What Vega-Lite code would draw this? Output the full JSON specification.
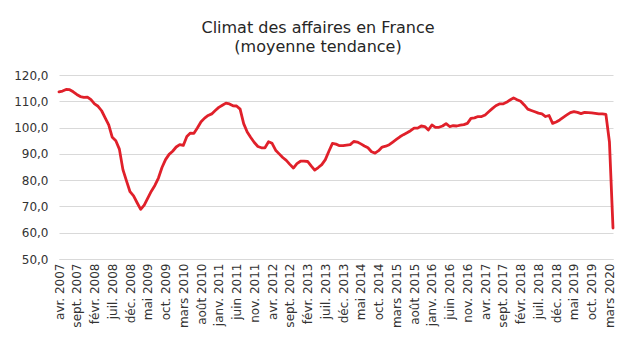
{
  "$schema": "https://vega.github.io/schema/vega-lite/v6.json",
  "autosize": "none",
  "width": 554,
  "height": 184,
  "padding": {"left": 59, "top": 75, "right": 25, "bottom": 92},
  "background": "white",
  "title": {
    "text": ["Climat des affaires en France", "(moyenne tendance)"],
    "font": "DejaVu Sans",
    "fontSize": 16,
    "fontWeight": "normal",
    "color": "#262626",
    "lineHeight": 19,
    "offset": 14,
    "anchor": "middle",
    "dx": -18
  },
  "data": {
    "values": [
      {"m": "avr. 2007", "v": 113.6}, {"m": "mai 2007", "v": 113.9}, {"m": "juin 2007", "v": 114.5}, {"m": "juil. 2007", "v": 114.4}, {"m": "août 2007", "v": 113.6},
      {"m": "sept. 2007", "v": 112.6}, {"m": "oct. 2007", "v": 111.8}, {"m": "nov. 2007", "v": 111.5}, {"m": "déc. 2007", "v": 111.6}, {"m": "janv. 2008", "v": 110.6},
      {"m": "févr. 2008", "v": 109.0}, {"m": "mars 2008", "v": 108.1}, {"m": "avr. 2008", "v": 106.4}, {"m": "mai 2008", "v": 103.7}, {"m": "juin 2008", "v": 101.0},
      {"m": "juil. 2008", "v": 96.3}, {"m": "août 2008", "v": 95.0}, {"m": "sept. 2008", "v": 91.8}, {"m": "oct. 2008", "v": 84.0}, {"m": "nov. 2008", "v": 79.7},
      {"m": "déc. 2008", "v": 75.6}, {"m": "janv. 2009", "v": 74.0}, {"m": "févr. 2009", "v": 71.4}, {"m": "mars 2009", "v": 68.9}, {"m": "avr. 2009", "v": 70.5},
      {"m": "mai 2009", "v": 73.2}, {"m": "juin 2009", "v": 75.8}, {"m": "juil. 2009", "v": 78.0}, {"m": "août 2009", "v": 80.8}, {"m": "sept. 2009", "v": 84.8},
      {"m": "oct. 2009", "v": 87.8}, {"m": "nov. 2009", "v": 89.8}, {"m": "déc. 2009", "v": 91.0}, {"m": "janv. 2010", "v": 92.6}, {"m": "févr. 2010", "v": 93.5},
      {"m": "mars 2010", "v": 93.2}, {"m": "avr. 2010", "v": 96.6}, {"m": "mai 2010", "v": 97.9}, {"m": "juin 2010", "v": 97.8}, {"m": "juil. 2010", "v": 99.9},
      {"m": "août 2010", "v": 102.2}, {"m": "sept. 2010", "v": 103.6}, {"m": "oct. 2010", "v": 104.6}, {"m": "nov. 2010", "v": 105.2}, {"m": "déc. 2010", "v": 106.5},
      {"m": "janv. 2011", "v": 107.7}, {"m": "févr. 2011", "v": 108.5}, {"m": "mars 2011", "v": 109.3}, {"m": "avr. 2011", "v": 109.0}, {"m": "mai 2011", "v": 108.3},
      {"m": "juin 2011", "v": 108.2}, {"m": "juil. 2011", "v": 107.0}, {"m": "août 2011", "v": 101.5}, {"m": "sept. 2011", "v": 98.3}, {"m": "oct. 2011", "v": 96.2},
      {"m": "nov. 2011", "v": 94.3}, {"m": "déc. 2011", "v": 92.8}, {"m": "janv. 2012", "v": 92.3}, {"m": "févr. 2012", "v": 92.3}, {"m": "mars 2012", "v": 94.6},
      {"m": "avr. 2012", "v": 94.0}, {"m": "mai 2012", "v": 91.4}, {"m": "juin 2012", "v": 90.0}, {"m": "juil. 2012", "v": 88.6}, {"m": "août 2012", "v": 87.5},
      {"m": "sept. 2012", "v": 86.0}, {"m": "oct. 2012", "v": 84.6}, {"m": "nov. 2012", "v": 86.3}, {"m": "déc. 2012", "v": 87.2}, {"m": "janv. 2013", "v": 87.2},
      {"m": "févr. 2013", "v": 87.1}, {"m": "mars 2013", "v": 85.4}, {"m": "avr. 2013", "v": 83.8}, {"m": "mai 2013", "v": 84.8}, {"m": "juin 2013", "v": 85.9},
      {"m": "juil. 2013", "v": 87.8}, {"m": "août 2013", "v": 91.0}, {"m": "sept. 2013", "v": 94.0}, {"m": "oct. 2013", "v": 93.7}, {"m": "nov. 2013", "v": 93.1},
      {"m": "déc. 2013", "v": 93.1}, {"m": "janv. 2014", "v": 93.3}, {"m": "févr. 2014", "v": 93.5}, {"m": "mars 2014", "v": 94.7}, {"m": "avr. 2014", "v": 94.5},
      {"m": "mai 2014", "v": 93.8}, {"m": "juin 2014", "v": 93.0}, {"m": "juil. 2014", "v": 92.3}, {"m": "août 2014", "v": 90.8}, {"m": "sept. 2014", "v": 90.3},
      {"m": "oct. 2014", "v": 91.2}, {"m": "nov. 2014", "v": 92.6}, {"m": "déc. 2014", "v": 92.9}, {"m": "janv. 2015", "v": 93.5}, {"m": "févr. 2015", "v": 94.5},
      {"m": "mars 2015", "v": 95.5}, {"m": "avr. 2015", "v": 96.5}, {"m": "mai 2015", "v": 97.3}, {"m": "juin 2015", "v": 98.0}, {"m": "juil. 2015", "v": 98.8},
      {"m": "août 2015", "v": 99.8}, {"m": "sept. 2015", "v": 99.8}, {"m": "oct. 2015", "v": 100.6}, {"m": "nov. 2015", "v": 100.4}, {"m": "déc. 2015", "v": 99.1},
      {"m": "janv. 2016", "v": 101.0}, {"m": "févr. 2016", "v": 100.1}, {"m": "mars 2016", "v": 100.1}, {"m": "avr. 2016", "v": 100.6}, {"m": "mai 2016", "v": 101.5},
      {"m": "juin 2016", "v": 100.4}, {"m": "juil. 2016", "v": 100.7}, {"m": "août 2016", "v": 100.6}, {"m": "sept. 2016", "v": 100.9}, {"m": "oct. 2016", "v": 101.1},
      {"m": "nov. 2016", "v": 101.6}, {"m": "déc. 2016", "v": 103.5}, {"m": "janv. 2017", "v": 103.7}, {"m": "févr. 2017", "v": 104.2}, {"m": "mars 2017", "v": 104.2},
      {"m": "avr. 2017", "v": 104.8}, {"m": "mai 2017", "v": 106.0}, {"m": "juin 2017", "v": 107.2}, {"m": "juil. 2017", "v": 108.3}, {"m": "août 2017", "v": 109.0},
      {"m": "sept. 2017", "v": 109.0}, {"m": "oct. 2017", "v": 109.6}, {"m": "nov. 2017", "v": 110.5}, {"m": "déc. 2017", "v": 111.3}, {"m": "janv. 2018", "v": 110.6},
      {"m": "févr. 2018", "v": 110.0}, {"m": "mars 2018", "v": 108.6}, {"m": "avr. 2018", "v": 107.0}, {"m": "mai 2018", "v": 106.5}, {"m": "juin 2018", "v": 106.0},
      {"m": "juil. 2018", "v": 105.5}, {"m": "août 2018", "v": 105.2}, {"m": "sept. 2018", "v": 104.2}, {"m": "oct. 2018", "v": 104.6}, {"m": "nov. 2018", "v": 101.6},
      {"m": "déc. 2018", "v": 102.1}, {"m": "janv. 2019", "v": 102.9}, {"m": "févr. 2019", "v": 103.9}, {"m": "mars 2019", "v": 104.8}, {"m": "avr. 2019", "v": 105.7},
      {"m": "mai 2019", "v": 106.1}, {"m": "juin 2019", "v": 105.8}, {"m": "juil. 2019", "v": 105.3}, {"m": "août 2019", "v": 105.8}, {"m": "sept. 2019", "v": 105.7},
      {"m": "oct. 2019", "v": 105.6}, {"m": "nov. 2019", "v": 105.4}, {"m": "déc. 2019", "v": 105.2}, {"m": "janv. 2020", "v": 105.2}, {"m": "févr. 2020", "v": 105.0},
      {"m": "mars 2020", "v": 94.5}, {"m": "avr. 2020", "v": 61.8}
    ]
  },
  "mark": {"type": "line", "color": "#E0202A", "strokeWidth": 2.8, "strokeJoin": "round", "strokeCap": "round"},
  "encoding": {
    "x": {
      "field": "m",
      "type": "ordinal",
      "sort": null,
      "scale": {"type": "point", "padding": 0},
      "axis": {
        "title": null,
        "values": ["avr. 2007", "sept. 2007", "févr. 2008", "juil. 2008", "déc. 2008", "mai 2009", "oct. 2009", "mars 2010", "août 2010", "janv. 2011", "juin 2011", "nov. 2011", "avr. 2012", "sept. 2012", "févr. 2013", "juil. 2013", "déc. 2013", "mai 2014", "oct. 2014", "mars 2015", "août 2015", "janv. 2016", "juin 2016", "nov. 2016", "avr. 2017", "sept. 2017", "févr. 2018", "juil. 2018", "déc. 2018", "mai 2019", "oct. 2019", "mars 2020"],
        "labelAngle": -90,
        "labelAlign": "right",
        "labelBaseline": "middle",
        "labelFont": "DejaVu Sans",
        "labelFontSize": 12,
        "labelColor": "#333333",
        "labelPadding": 4,
        "labelOverlap": false,
        "ticks": false,
        "domain": true,
        "domainColor": "#d9d9d9",
        "grid": false
      }
    },
    "y": {
      "field": "v",
      "type": "quantitative",
      "scale": {"domain": [50, 120], "nice": false, "zero": false},
      "axis": {
        "title": null,
        "values": [50, 60, 70, 80, 90, 100, 110, 120],
        "labelExpr": "replace(format(datum.value, '.1f'), '.', ',')",
        "labelFont": "DejaVu Sans",
        "labelFontSize": 12,
        "labelColor": "#333333",
        "labelPadding": 11,
        "ticks": false,
        "domain": false,
        "grid": true,
        "gridColor": "#d9d9d9",
        "gridWidth": 1
      }
    }
  },
  "config": {
    "view": {"stroke": null}
  }
}
